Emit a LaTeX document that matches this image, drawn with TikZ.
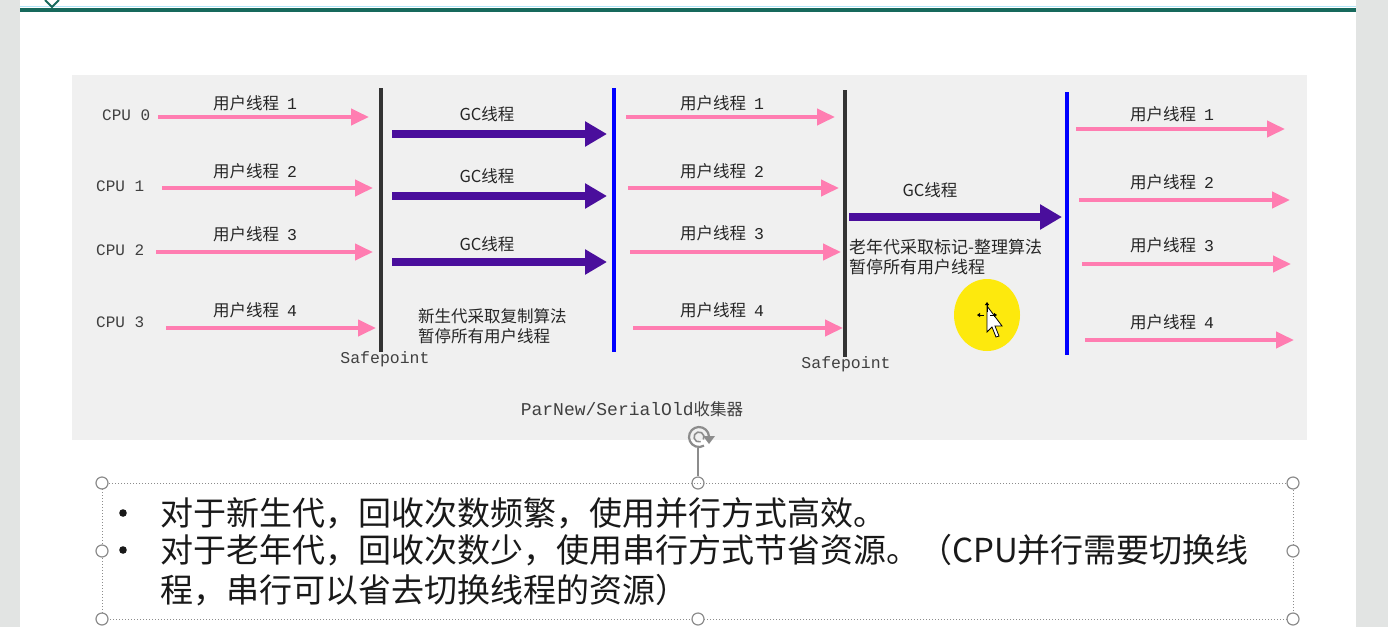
\documentclass[tikz,border=0pt]{standalone}
\usepackage{fontspec}
\setmonofont{Liberation Mono}
\newfontfamily\cjk{Noto Sans CJK SC}
\usetikzlibrary{arrows.meta}
\definecolor{panelgray}{HTML}{F0F0F0}
\definecolor{sidegray}{HTML}{E2E4E3}
\definecolor{slideteal}{HTML}{17695C}
\definecolor{uthread}{HTML}{FF7DB1}
\definecolor{gcthread}{HTML}{4A0E9C}
\definecolor{stopline}{HTML}{333333}
\definecolor{handlegray}{HTML}{8C8C8C}
\begin{document}
\begin{tikzpicture}[x=1pt,y=-1pt,
  uarrow/.style={draw=uthread, line width=4pt, -{Triangle[length=18pt,width=16pt]}},
  garrow/.style={draw=gcthread, line width=8pt, -{Triangle[length=22pt,width=24pt]}},
  cpulbl/.style={font=\ttfamily\fontsize{16}{16}\selectfont, text=black!75, anchor=west, inner sep=0pt},
  thlbl/.style={font=\cjk\fontsize{16.5}{16.5}\selectfont, text=black!85, inner sep=0pt},
  note/.style={font=\cjk\fontsize{16.5}{20}\selectfont, text=black!85, anchor=north west, align=left, inner sep=0pt},
  safelbl/.style={font=\ttfamily\fontsize{16.5}{16.5}\selectfont, text=black!75, inner sep=0pt},
  stopbar/.style={draw=stopline, line width=4pt},
  resumebar/.style={draw=blue, line width=4pt},
  bodytxt/.style={font=\cjk\fontsize{33}{33}\selectfont, text=black!90, anchor=west, inner sep=0pt},
  handle/.style={draw=handlegray, fill=white, line width=1.2pt, circle, minimum size=12pt, inner sep=0pt},
]
\useasboundingbox (0,0) rectangle (1388,627);
% slide window
\fill[white] (0,0) rectangle (1388,627);
\fill[sidegray] (0,0) rectangle (20,627);
\fill[sidegray] (1356,0) rectangle (1388,627);
\draw[cyan!30, line width=1pt] (20,6.5) -- (1356,6.5);
\draw[slideteal, line width=4pt] (20,10) -- (1356,10);
\draw[slideteal, line width=2pt] (45,0) -- (52,7) -- (59,0);

% diagram panel
\fill[panelgray] (72,75) rectangle (1307,440);

% user threads before the first safepoint
\node[cpulbl] (c0) at (102,115) {CPU 0};
\node[cpulbl] (c1) at (96,186) {CPU 1};
\node[cpulbl] (c2) at (96,250) {CPU 2};
\node[cpulbl] (c3) at (96,322) {CPU 3};
\coordinate (a0s) at (158,117); \coordinate (a0e) at (369,117);
\coordinate (a1s) at (162,188); \coordinate (a1e) at (373,188);
\coordinate (a2s) at (156,252); \coordinate (a2e) at (373,252);
\coordinate (a3s) at (166,328); \coordinate (a3e) at (376,328);
\draw[uarrow] (a0s) -- (a0e);
\draw[uarrow] (a1s) -- (a1e);
\draw[uarrow] (a2s) -- (a2e);
\draw[uarrow] (a3s) -- (a3e);
\node[thlbl] (t01) at (255,103) {用户线程\hspace{8pt}{\ttfamily 1}};
\node[thlbl] (t02) at (255,171) {用户线程\hspace{8pt}{\ttfamily 2}};
\node[thlbl] (t03) at (255,234) {用户线程\hspace{8pt}{\ttfamily 3}};
\node[thlbl] (t04) at (255,310) {用户线程\hspace{8pt}{\ttfamily 4}};

% first safepoint
\coordinate (sp1t) at (381,88); \coordinate (sp1b) at (381,352);
\draw[stopbar] (sp1t) -- (sp1b);
\node[safelbl] (sp1) at (385,359) {Safepoint};

% parallel young-generation GC
\coordinate (g1s) at (392,134); \coordinate (g1e) at (607,134);
\coordinate (g2s) at (392,196); \coordinate (g2e) at (607,196);
\coordinate (g3s) at (392,262); \coordinate (g3e) at (607,262);
\draw[garrow] (g1s) -- (g1e);
\draw[garrow] (g2s) -- (g2e);
\draw[garrow] (g3s) -- (g3e);
\node[thlbl] (gl1) at (487,114) {GC线程};
\node[thlbl] (gl2) at (487,176) {GC线程};
\node[thlbl] (gl3) at (487,244) {GC线程};
\node[note] (young) at (418,308) {新生代采取复制算法\\暂停所有用户线程};

% resume
\coordinate (r1t) at (614,88); \coordinate (r1b) at (614,352);
\draw[resumebar] (r1t) -- (r1b);

% user threads before the second safepoint
\coordinate (b0s) at (626,117); \coordinate (b0e) at (835,117);
\coordinate (b1s) at (628,188); \coordinate (b1e) at (839,188);
\coordinate (b2s) at (630,252); \coordinate (b2e) at (841,252);
\coordinate (b3s) at (633,328); \coordinate (b3e) at (843,328);
\draw[uarrow] (b0s) -- (b0e);
\draw[uarrow] (b1s) -- (b1e);
\draw[uarrow] (b2s) -- (b2e);
\draw[uarrow] (b3s) -- (b3e);
\node[thlbl] (t11) at (722,103) {用户线程\hspace{8pt}{\ttfamily 1}};
\node[thlbl] (t12) at (722,171) {用户线程\hspace{8pt}{\ttfamily 2}};
\node[thlbl] (t13) at (722,233) {用户线程\hspace{8pt}{\ttfamily 3}};
\node[thlbl] (t14) at (722,310) {用户线程\hspace{8pt}{\ttfamily 4}};

% second safepoint
\coordinate (sp2t) at (845,90); \coordinate (sp2b) at (845,357);
\draw[stopbar] (sp2t) -- (sp2b);
\node[safelbl] (sp2) at (846,364) {Safepoint};

% serial old-generation GC
\coordinate (g4s) at (849,217); \coordinate (g4e) at (1062,217);
\draw[garrow] (g4s) -- (g4e);
\node[thlbl] (gl4) at (930,190) {GC线程};
\node[note, font=\cjk\fontsize{17}{20}\selectfont] (old) at (849,239) {老年代采取标记-整理算法\\暂停所有用户线程};

% resume
\coordinate (r2t) at (1067,92); \coordinate (r2b) at (1067,355);
\draw[resumebar] (r2t) -- (r2b);

% user threads after the old-generation GC
\coordinate (d0s) at (1076,129); \coordinate (d0e) at (1285,129);
\coordinate (d1s) at (1079,200); \coordinate (d1e) at (1290,200);
\coordinate (d2s) at (1082,264); \coordinate (d2e) at (1291,264);
\coordinate (d3s) at (1085,340); \coordinate (d3e) at (1294,340);
\draw[uarrow] (d0s) -- (d0e);
\draw[uarrow] (d1s) -- (d1e);
\draw[uarrow] (d2s) -- (d2e);
\draw[uarrow] (d3s) -- (d3e);
\node[thlbl] (t21) at (1172,114) {用户线程\hspace{8pt}{\ttfamily 1}};
\node[thlbl] (t22) at (1172,182) {用户线程\hspace{8pt}{\ttfamily 2}};
\node[thlbl] (t23) at (1172,245) {用户线程\hspace{8pt}{\ttfamily 3}};
\node[thlbl] (t24) at (1172,322) {用户线程\hspace{8pt}{\ttfamily 4}};

% caption
\node[inner sep=0pt, text=black!75] (cap) at (632,409)
  {{\ttfamily\fontsize{18}{18}\selectfont ParNew/SerialOld}{\cjk\fontsize{16.5}{16.5}\selectfont 收集器}};

% pointer highlight
\fill[yellow!92!orange, opacity=0.95] (987,315) ellipse (33pt and 36pt);
\fill[white, draw=black, line width=0.8pt]
  (987,306) -- (987,332) -- (992,327) -- (996,337) -- (999,336) -- (995,326) -- (1002,326) -- cycle;
\draw[black, line width=1pt, -{Triangle[length=3pt,width=4pt]}] (987,312) -- (987,302);
\draw[black, line width=1pt, -{Triangle[length=3pt,width=4pt]}] (984,315) -- (977,315);
\draw[black, line width=1pt, -{Triangle[length=3pt,width=4pt]}] (990,315) -- (997,315);

% text box with rotate handle and selection handles
\coordinate (rot) at (699,437);
\node[handle] (hn) at (698,483) {};
\draw[handlegray, line width=1.2pt] (698,448) -- (hn.north);
\draw[handlegray, line width=2.2pt] (rot) ++(-20:10pt) arc (-20:300:10pt);
\draw[handlegray, line width=1.6pt] (rot) ++(-30:5pt) arc (-30:290:5pt);
\fill[handlegray] (703,436) -- (715,436) -- (709,444) -- cycle;
\draw[handlegray, dotted, line width=1pt] (102,483) rectangle (1293,619);
\node[handle] (hnw) at (102,483) {};
\node[handle] (hne) at (1293,483) {};
\node[handle] (hw) at (102,551) {};
\node[handle] (he) at (1293,551) {};
\node[handle] (hsw) at (102,619) {};
\node[handle] (hs) at (698,619) {};
\node[handle] (hse) at (1293,619) {};

% bullet text
\fill[black!90] (123,513) circle (3.8pt);
\fill[black!90] (123,550) circle (3.8pt);
\node[bodytxt] (l1) at (160,513) {对于新生代，回收次数频繁，使用并行方式高效。};
\node[bodytxt] (l2) at (160,550) {对于老年代，回收次数少，使用串行方式节省资源。（CPU并行需要切换线};
\node[bodytxt] (l3) at (160,590) {程，串行可以省去切换线程的资源）};
\end{tikzpicture}
\end{document}
